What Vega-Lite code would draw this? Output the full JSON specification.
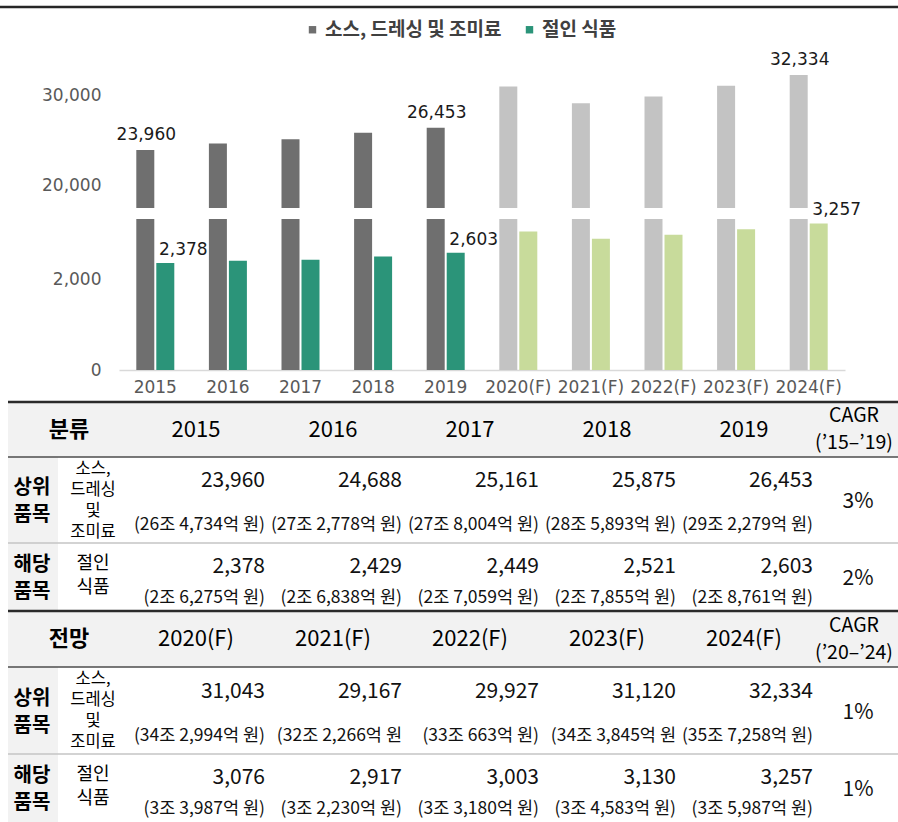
{
  "$schema": "https://vega.github.io/schema/vega-lite/v6.json",
  "width": 898,
  "height": 822,
  "autosize": {"type": "none"},
  "padding": 0,
  "background": "white",
  "config": {
    "view": {"stroke": null},
    "font": "Noto Sans CJK KR",
    "axis": {"grid": false, "ticks": false, "title": null},
    "text": {"color": "#111111"}
  },
  "datasets": {
    "bars": [
      {"year": "2015", "series": "소스, 드레싱 및 조미료", "value": 23960, "period": "실적"},
      {"year": "2016", "series": "소스, 드레싱 및 조미료", "value": 24688, "period": "실적"},
      {"year": "2017", "series": "소스, 드레싱 및 조미료", "value": 25161, "period": "실적"},
      {"year": "2018", "series": "소스, 드레싱 및 조미료", "value": 25875, "period": "실적"},
      {"year": "2019", "series": "소스, 드레싱 및 조미료", "value": 26453, "period": "실적"},
      {"year": "2020(F)", "series": "소스, 드레싱 및 조미료", "value": 31043, "period": "전망"},
      {"year": "2021(F)", "series": "소스, 드레싱 및 조미료", "value": 29167, "period": "전망"},
      {"year": "2022(F)", "series": "소스, 드레싱 및 조미료", "value": 29927, "period": "전망"},
      {"year": "2023(F)", "series": "소스, 드레싱 및 조미료", "value": 31120, "period": "전망"},
      {"year": "2024(F)", "series": "소스, 드레싱 및 조미료", "value": 32334, "period": "전망"},
      {"year": "2015", "series": "절인 식품", "value": 2378, "period": "실적"},
      {"year": "2016", "series": "절인 식품", "value": 2429, "period": "실적"},
      {"year": "2017", "series": "절인 식품", "value": 2449, "period": "실적"},
      {"year": "2018", "series": "절인 식품", "value": 2521, "period": "실적"},
      {"year": "2019", "series": "절인 식품", "value": 2603, "period": "실적"},
      {"year": "2020(F)", "series": "절인 식품", "value": 3076, "period": "전망"},
      {"year": "2021(F)", "series": "절인 식품", "value": 2917, "period": "전망"},
      {"year": "2022(F)", "series": "절인 식품", "value": 3003, "period": "전망"},
      {"year": "2023(F)", "series": "절인 식품", "value": 3130, "period": "전망"},
      {"year": "2024(F)", "series": "절인 식품", "value": 3257, "period": "전망"}
    ],
    "cells": [
      {"r": 1, "c": 2, "main": "23,960", "sub": "(26조 4,734억 원)"},
      {"r": 1, "c": 3, "main": "24,688", "sub": "(27조 2,778억 원)"},
      {"r": 1, "c": 4, "main": "25,161", "sub": "(27조 8,004억 원)"},
      {"r": 1, "c": 5, "main": "25,875", "sub": "(28조 5,893억 원)"},
      {"r": 1, "c": 6, "main": "26,453", "sub": "(29조 2,279억 원)"},
      {"r": 2, "c": 2, "main": "2,378", "sub": "(2조 6,275억 원)"},
      {"r": 2, "c": 3, "main": "2,429", "sub": "(2조 6,838억 원)"},
      {"r": 2, "c": 4, "main": "2,449", "sub": "(2조 7,059억 원)"},
      {"r": 2, "c": 5, "main": "2,521", "sub": "(2조 7,855억 원)"},
      {"r": 2, "c": 6, "main": "2,603", "sub": "(2조 8,761억 원)"},
      {"r": 4, "c": 2, "main": "31,043", "sub": "(34조 2,994억 원)"},
      {"r": 4, "c": 3, "main": "29,167", "sub": "(32조 2,266억 원"},
      {"r": 4, "c": 4, "main": "29,927", "sub": "(33조 663억 원)"},
      {"r": 4, "c": 5, "main": "31,120", "sub": "(34조 3,845억 원"},
      {"r": 4, "c": 6, "main": "32,334", "sub": "(35조 7,258억 원)"},
      {"r": 5, "c": 2, "main": "3,076", "sub": "(3조 3,987억 원)"},
      {"r": 5, "c": 3, "main": "2,917", "sub": "(3조 2,230억 원)"},
      {"r": 5, "c": 4, "main": "3,003", "sub": "(3조 3,180억 원)"},
      {"r": 5, "c": 5, "main": "3,130", "sub": "(3조 4,583억 원)"},
      {"r": 5, "c": 6, "main": "3,257", "sub": "(3조 5,987억 원)"}
    ]
  },
  "resolve": {"scale": {"x": "independent", "y": "independent"}},
  "layer": [
    {
      "data": {"name": "bars"},
      "layer": [
        {
          "data": {"values": [{}]},
          "mark": {"type": "rule", "color": "#262626", "strokeWidth": 2.5},
          "encoding": {"y": {"datum": 39900, "type": "quantitative", "scale": {"domain": [17500, 39900], "range": [208, 7], "zero": false, "nice": false, "clamp": true}}}
        },
        {
          "transform": [{"filter": "datum.series === '소스, 드레싱 및 조미료' && datum.period === '실적'"}],
          "mark": {"type": "bar", "width": 18, "xOffset": -10},
          "encoding": {
            "x": {"field": "year", "type": "nominal", "sort": null, "scale": {"domain": ["2015","2016","2017","2018","2019","2020(F)","2021(F)","2022(F)","2023(F)","2024(F)"], "range": [119, 845], "paddingInner": 0.477, "paddingOuter": 0.2385}, "axis": null},
            "y": {"field": "value", "type": "quantitative", "scale": {"domain": [17500, 39900], "range": [208, 7], "zero": false, "nice": false, "clamp": true},
              "axis": {"orient": "left", "values": [20000, 30000], "labelExpr": "format(datum.value, ',')", "offset": -119, "labelPadding": 18, "ticks": false, "domain": false, "grid": false, "title": null, "labelFont": "DejaVu Sans", "labelFontSize": 17, "labelColor": "#595959"}},
            "y2": {"datum": 17500},
            "fill": {"field": "series", "type": "nominal", "scale": {"domain": ["소스, 드레싱 및 조미료", "절인 식품"], "range": ["#6F6F6F", "#2B9479"]},
              "legend": {"orient": "none", "legendX": 303, "legendY": 20, "direction": "horizontal", "title": null, "padding": 0, "symbolType": "square", "symbolSize": 55, "symbolStrokeWidth": 0, "labelFont": "Noto Sans CJK KR", "labelFontWeight": "bold", "labelFontSize": 19, "labelColor": "#404040", "labelLimit": 400, "columnPadding": 18, "labelOffset": 3}}
          }
        },
        {
          "transform": [{"filter": "datum.series === '소스, 드레싱 및 조미료' && datum.period === '전망'"}],
          "mark": {"type": "bar", "width": 18, "xOffset": -10},
          "encoding": {
            "x": {"field": "year", "type": "nominal", "sort": null},
            "y": {"field": "value", "type": "quantitative"},
            "y2": {"datum": 17500},
            "color": {"field": "series", "type": "nominal", "scale": {"domain": ["소스, 드레싱 및 조미료", "절인 식품"], "range": ["#C3C3C3", "#C8DB9B"]}, "legend": null}
          }
        },
        {
          "transform": [{"filter": "datum.series === '소스, 드레싱 및 조미료' && (datum.year === '2015' || datum.year === '2019' || datum.year === '2024(F)')"}],
          "mark": {"type": "text", "font": "DejaVu Sans", "fontSize": 17, "dy": -15, "dx": -9, "color": "#1a1a1a"},
          "encoding": {
            "x": {"field": "year", "type": "nominal", "sort": null},
            "y": {"field": "value", "type": "quantitative"},
            "text": {"field": "value", "type": "quantitative", "format": ","}
          }
        }
      ]
    },
    {
      "data": {"name": "bars"},
      "layer": [
        {
          "transform": [{"filter": "datum.series === '소스, 드레싱 및 조미료' && datum.period === '실적'"}],
          "mark": {"type": "bar", "width": 18, "xOffset": -10},
          "encoding": {
            "x": {"field": "year", "type": "nominal", "sort": null, "scale": {"domain": ["2015","2016","2017","2018","2019","2020(F)","2021(F)","2022(F)","2023(F)","2024(F)"], "range": [119, 845], "paddingInner": 0.477, "paddingOuter": 0.2385},
              "axis": {"orient": "bottom", "offset": -452, "labelFont": "DejaVu Sans", "labelFontSize": 17, "labelColor": "#595959", "labelPadding": 9, "labelAngle": 0, "domain": true, "domainColor": "#D9D9D9", "domainWidth": 1.5, "ticks": false, "grid": false, "title": null}},
            "y": {"field": "value", "type": "quantitative", "scale": {"domain": [0, 3355], "range": [370, 219], "nice": false, "clamp": true},
              "axis": {"orient": "left", "values": [0, 2000], "labelExpr": "format(datum.value, ',')", "offset": -119, "labelPadding": 18, "ticks": false, "domain": false, "grid": false, "title": null, "labelFont": "DejaVu Sans", "labelFontSize": 17, "labelColor": "#595959"}},
            "fill": {"field": "series", "type": "nominal", "legend": null}
          }
        },
        {
          "transform": [{"filter": "datum.series === '절인 식품' && datum.period === '실적'"}],
          "mark": {"type": "bar", "width": 18, "xOffset": 10},
          "encoding": {
            "x": {"field": "year", "type": "nominal", "sort": null},
            "y": {"field": "value", "type": "quantitative"},
            "fill": {"field": "series", "type": "nominal", "legend": null}
          }
        },
        {
          "transform": [{"filter": "datum.series === '소스, 드레싱 및 조미료' && datum.period === '전망'"}],
          "mark": {"type": "bar", "width": 18, "xOffset": -10},
          "encoding": {
            "x": {"field": "year", "type": "nominal", "sort": null},
            "y": {"field": "value", "type": "quantitative"},
            "color": {"field": "series", "type": "nominal", "legend": null}
          }
        },
        {
          "transform": [{"filter": "datum.series === '절인 식품' && datum.period === '전망'"}],
          "mark": {"type": "bar", "width": 18, "xOffset": 10},
          "encoding": {
            "x": {"field": "year", "type": "nominal", "sort": null},
            "y": {"field": "value", "type": "quantitative"},
            "color": {"field": "series", "type": "nominal", "legend": null}
          }
        },
        {
          "transform": [{"filter": "datum.series === '절인 식품' && (datum.year === '2015' || datum.year === '2019' || datum.year === '2024(F)')"}],
          "mark": {"type": "text", "font": "DejaVu Sans", "fontSize": 17, "dy": -13, "dx": 28, "color": "#1a1a1a"},
          "encoding": {
            "x": {"field": "year", "type": "nominal", "sort": null},
            "y": {"field": "value", "type": "quantitative"},
            "text": {"field": "value", "type": "quantitative", "format": ","}
          }
        }
      ]
    },
    {
      "layer": [
        {
          "data": {"values": [{"r": -0.5, "r2": 0.5}, {"r": 2.5, "r2": 3.5}]},
          "mark": {"type": "rect", "color": "#F2F2F2"},
          "encoding": {
            "x": {"datum": -0.5, "type": "quantitative", "scale": {"type": "linear", "domain": [-0.5, 0, 0.5, 1, 1.5, 2, 6, 7, 7.5], "range": [8, 32, 58, 93, 128, 196, 744, 858, 898], "zero": false, "nice": false}, "axis": null},
            "x2": {"datum": 7.5},
            "y": {"field": "r", "type": "quantitative", "scale": {"type": "linear", "domain": [-0.5, 0, 0.5, 1, 1.5, 2, 2.5, 3, 3.5, 4, 4.5, 5, 5.5], "range": [402, 429.5, 457, 500, 543, 577, 611, 639, 667, 710.5, 754, 788, 822], "zero": false, "nice": false}, "axis": null},
            "y2": {"field": "r2"}
          }
        },
        {
          "data": {"values": [{"r": 0.5, "r2": 2.5}, {"r": 3.5, "r2": 5.5}]},
          "mark": {"type": "rect", "color": "#F2F2F2"},
          "encoding": {
            "x": {"datum": -0.5, "type": "quantitative"},
            "x2": {"datum": 0.5},
            "y": {"field": "r", "type": "quantitative"},
            "y2": {"field": "r2"}
          }
        },
        {
          "data": {"values": [{"r": -0.5}, {"r": 2.5}]},
          "mark": {"type": "rule", "color": "#2b2b2b", "strokeWidth": 2.5},
          "encoding": {
            "x": {"datum": -0.5, "type": "quantitative"},
            "x2": {"datum": 7.5},
            "y": {"field": "r", "type": "quantitative"}
          }
        },
        {
          "data": {"values": [{"r": 0.5}, {"r": 3.5}]},
          "mark": {"type": "rule", "color": "#4d4d4d", "strokeWidth": 1.5},
          "encoding": {
            "x": {"datum": -0.5, "type": "quantitative"},
            "x2": {"datum": 7.5},
            "y": {"field": "r", "type": "quantitative"}
          }
        },
        {
          "data": {"values": [{"r": 1.5}, {"r": 4.5}]},
          "mark": {"type": "rule", "color": "#c4c4c4", "strokeWidth": 1.5},
          "encoding": {
            "x": {"datum": -0.5, "type": "quantitative"},
            "x2": {"datum": 7.5},
            "y": {"field": "r", "type": "quantitative"}
          }
        },
        {
          "data": {"values": [{"r": 0, "label": "분류"}, {"r": 3, "label": "전망"}]},
          "mark": {"type": "text", "fontSize": 22, "fontWeight": "bold", "dx": 11, "color": "#000000"},
          "encoding": {
            "x": {"datum": 0.5, "type": "quantitative"},
            "y": {"field": "r", "type": "quantitative"},
            "text": {"field": "label", "type": "nominal"}
          }
        },
        {
          "data": {"values": [
            {"r": 0, "c": 2, "label": "2015"}, {"r": 0, "c": 3, "label": "2016"}, {"r": 0, "c": 4, "label": "2017"}, {"r": 0, "c": 5, "label": "2018"}, {"r": 0, "c": 6, "label": "2019"},
            {"r": 3, "c": 2, "label": "2020(F)"}, {"r": 3, "c": 3, "label": "2021(F)"}, {"r": 3, "c": 4, "label": "2022(F)"}, {"r": 3, "c": 5, "label": "2023(F)"}, {"r": 3, "c": 6, "label": "2024(F)"}
          ]},
          "mark": {"type": "text", "fontSize": 22, "color": "#000000"},
          "encoding": {
            "x": {"field": "c", "type": "quantitative"},
            "y": {"field": "r", "type": "quantitative"},
            "text": {"field": "label", "type": "nominal"}
          }
        },
        {
          "data": {"values": [{"r": 0, "c": 7, "label": "CAGR\n(’15–’19)"}, {"r": 3, "c": 7, "label": "CAGR\n(’20–’24)"}]},
          "mark": {"type": "text", "fontSize": 19.5, "lineBreak": "\n", "lineHeight": 27, "dy": -13.5, "dx": -4, "color": "#000000"},
          "encoding": {
            "x": {"field": "c", "type": "quantitative"},
            "y": {"field": "r", "type": "quantitative"},
            "text": {"field": "label", "type": "nominal"}
          }
        },
        {
          "data": {"values": [{"r": 1, "label": "상위\n품목"}, {"r": 2, "label": "해당\n품목"}, {"r": 4, "label": "상위\n품목"}, {"r": 5, "label": "해당\n품목"}]},
          "mark": {"type": "text", "fontSize": 20, "fontWeight": "bold", "lineBreak": "\n", "lineHeight": 27, "dy": -12, "color": "#000000"},
          "encoding": {
            "x": {"datum": 0, "type": "quantitative"},
            "y": {"field": "r", "type": "quantitative"},
            "text": {"field": "label", "type": "nominal"}
          }
        },
        {
          "data": {"values": [{"r": 1, "label": "소스,\n드레싱\n및\n조미료"}, {"r": 4, "label": "소스,\n드레싱\n및\n조미료"}]},
          "mark": {"type": "text", "fontSize": 16.5, "lineBreak": "\n", "lineHeight": 21, "dy": -31.5, "color": "#000000"},
          "encoding": {
            "x": {"datum": 1, "type": "quantitative"},
            "y": {"field": "r", "type": "quantitative"},
            "text": {"field": "label", "type": "nominal"}
          }
        },
        {
          "data": {"values": [{"r": 2, "label": "절인\n식품"}, {"r": 5, "label": "절인\n식품"}]},
          "mark": {"type": "text", "fontSize": 18, "lineBreak": "\n", "lineHeight": 24, "dy": -13, "color": "#000000"},
          "encoding": {
            "x": {"datum": 1, "type": "quantitative"},
            "y": {"field": "r", "type": "quantitative"},
            "text": {"field": "label", "type": "nominal"}
          }
        },
        {
          "data": {"name": "cells"},
          "transform": [{"filter": "datum.r === 1 || datum.r === 4"}],
          "mark": {"type": "text", "fontSize": 21, "align": "right", "dx": 69, "dy": -19},
          "encoding": {
            "x": {"field": "c", "type": "quantitative"},
            "y": {"field": "r", "type": "quantitative"},
            "text": {"field": "main", "type": "nominal"}
          }
        },
        {
          "data": {"name": "cells"},
          "transform": [{"filter": "datum.r === 1 || datum.r === 4"}],
          "mark": {"type": "text", "fontSize": 17.5, "align": "right", "dx": 69, "dy": 25},
          "encoding": {
            "x": {"field": "c", "type": "quantitative"},
            "y": {"field": "r", "type": "quantitative"},
            "text": {"field": "sub", "type": "nominal"}
          }
        },
        {
          "data": {"name": "cells"},
          "transform": [{"filter": "datum.r === 2 || datum.r === 5"}],
          "mark": {"type": "text", "fontSize": 21, "align": "right", "dx": 69, "dy": -10},
          "encoding": {
            "x": {"field": "c", "type": "quantitative"},
            "y": {"field": "r", "type": "quantitative"},
            "text": {"field": "main", "type": "nominal"}
          }
        },
        {
          "data": {"name": "cells"},
          "transform": [{"filter": "datum.r === 2 || datum.r === 5"}],
          "mark": {"type": "text", "fontSize": 17.5, "align": "right", "dx": 69, "dy": 21},
          "encoding": {
            "x": {"field": "c", "type": "quantitative"},
            "y": {"field": "r", "type": "quantitative"},
            "text": {"field": "sub", "type": "nominal"}
          }
        },
        {
          "data": {"values": [{"r": 1, "label": "3%"}, {"r": 2, "label": "2%"}, {"r": 4, "label": "1%"}, {"r": 5, "label": "1%"}]},
          "mark": {"type": "text", "fontSize": 21, "dy": 2},
          "encoding": {
            "x": {"datum": 7, "type": "quantitative"},
            "y": {"field": "r", "type": "quantitative"},
            "text": {"field": "label", "type": "nominal"}
          }
        }
      ]
    }
  ]
}
